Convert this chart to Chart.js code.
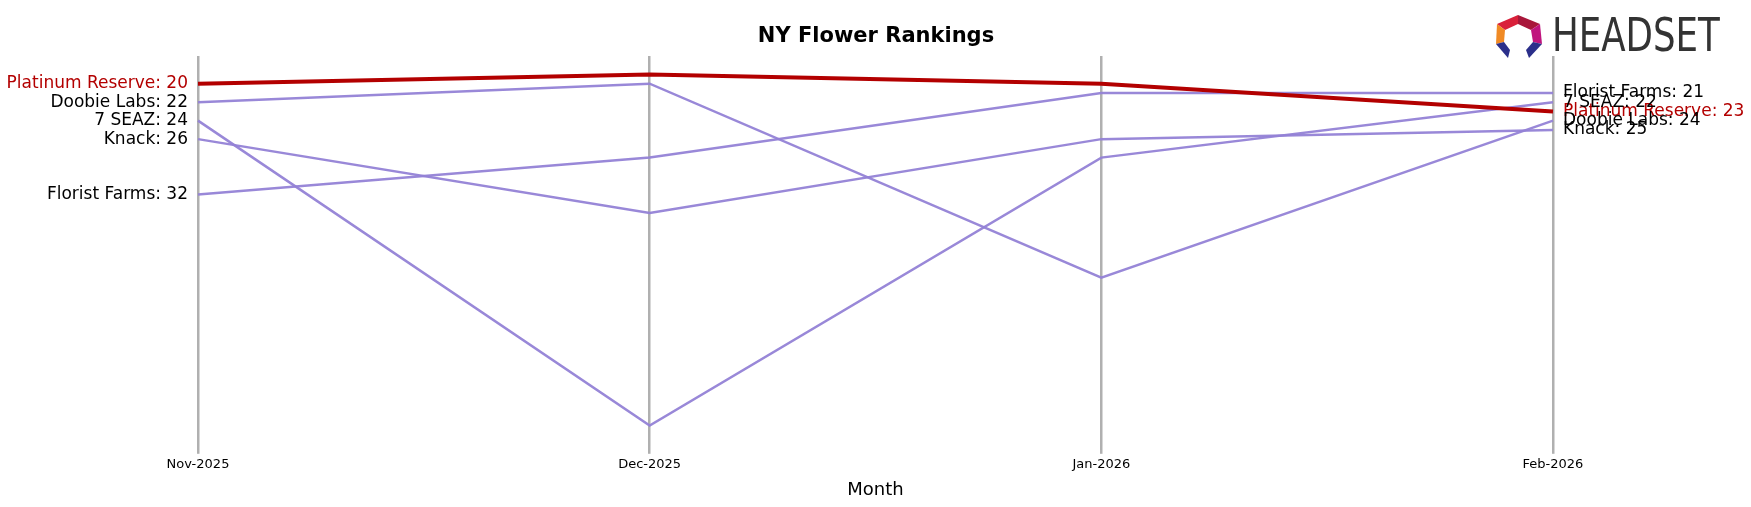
<!DOCTYPE html>
<html>
<head>
<meta charset="utf-8">
<script src="https://cdn.jsdelivr.net/npm/chart.js@4"></script>
<style>
  body { margin: 0; background: #fff; }
  canvas { display: block; }
</style>
</head>
<body>
<canvas id="chart" width="1751" height="507"></canvas>
<script>
// --- Data ---
const months = ['Nov-2025', 'Dec-2025', 'Jan-2026', 'Feb-2026'];
const platinumReserve = [20, 19, 20, 23];
const doobieLabs      = [22, 20, 41, 24];
const sevenSeaz       = [24, 57, 28, 22];
const knack           = [26, 34, 26, 25];
const floristFarms    = [32, 28, 21, 21];

const brands = [
  { name: 'Platinum Reserve', data: platinumReserve, hi: true },
  { name: 'Doobie Labs',      data: doobieLabs },
  { name: '7 SEAZ',           data: sevenSeaz },
  { name: 'Knack',            data: knack },
  { name: 'Florist Farms',    data: floristFarms }
];

const RED = '#b30000';
const PURPLE = 'rgba(147,130,214,0.95)';

// --- Side labels, title, logo ---
const decor = {
  id: 'decor',
  afterDatasetsDraw(chart) {
    const { ctx, scales: { x, y } } = chart;
    ctx.save();
    ctx.font = '17px "DejaVu Sans"';
    ctx.textBaseline = 'middle';
    brands.forEach(b => {
      ctx.fillStyle = b.hi ? RED : '#000';
      ctx.textAlign = 'right';
      ctx.fillText(`${b.name}: ${b.data[0]}`, x.getPixelForValue(0) - 10, y.getPixelForValue(b.data[0]));
      ctx.textAlign = 'left';
      const last = b.data[b.data.length - 1];
      ctx.fillText(`${b.name}: ${last}`, x.getPixelForValue(months.length - 1) + 10, y.getPixelForValue(last));
    });

    // title
    ctx.fillStyle = '#000';
    ctx.textAlign = 'center';
    ctx.font = 'bold 21px "DejaVu Sans"';
    ctx.fillText('NY Flower Rankings', 876, 37);

    // logo
    ctx.textAlign = 'left';
    ctx.fillStyle = '#333';
    ctx.font = '46px "DejaVu Sans Condensed"';
    ctx.save();
    ctx.translate(1552, 39);
    ctx.scale(0.86, 1);
    ctx.fillText('HEADSET', 0, 0);
    ctx.restore();
    const poly = (pts, c) => {
      ctx.fillStyle = c; ctx.beginPath();
      pts.forEach((p, i) => i ? ctx.lineTo(p[0], p[1]) : ctx.moveTo(p[0], p[1]));
      ctx.closePath(); ctx.fill();
    };
    poly([[1497,24],[1518,15],[1518,24],[1505,30]], '#d9203a');
    poly([[1518,15],[1540,24],[1531,30],[1518,24]], '#a8173a');
    poly([[1497,24],[1505,30],[1504,42],[1496,44]], '#f08a24');
    poly([[1540,24],[1542,44],[1533,42],[1531,30]], '#c0157e');
    poly([[1496,44],[1504,42],[1510,50],[1508,58]], '#2b2f8a');
    poly([[1542,44],[1533,42],[1526,50],[1529,58]], '#2b2f8a');
    ctx.restore();
  }
};

new Chart(document.getElementById('chart'), {
  type: 'line',
  data: {
    labels: months,
    datasets: brands.map(b => ({
      label: b.name,
      data: b.data,
      borderColor: b.hi ? RED : PURPLE,
      borderWidth: b.hi ? 4 : 2.5,
      pointRadius: 0,
      tension: 0,
      order: b.hi ? 0 : 1
    }))
  },
  options: {
    responsive: false,
    animation: false,
    layout: { padding: { left: 198, right: 198, top: 56, bottom: 2 } },
    plugins: { legend: { display: false }, title: { display: false }, tooltip: { enabled: false } },
    scales: {
      x: {
        offset: false,
        grid: { color: '#b0b0b0', lineWidth: 2.5, tickLength: 8, drawTicks: true },
        border: { display: false },
        ticks: { color: '#000', font: { family: 'DejaVu Sans', size: 13 }, maxRotation: 0 },
        title: { display: true, text: 'Month', color: '#000', font: { family: 'DejaVu Sans', size: 18 }, padding: { top: 4 } }
      },
      y: {
        display: false,
        reverse: true,
        min: 17,
        max: 59.2
      }
    }
  },
  plugins: [decor]
});
</script>
</body>
</html>
